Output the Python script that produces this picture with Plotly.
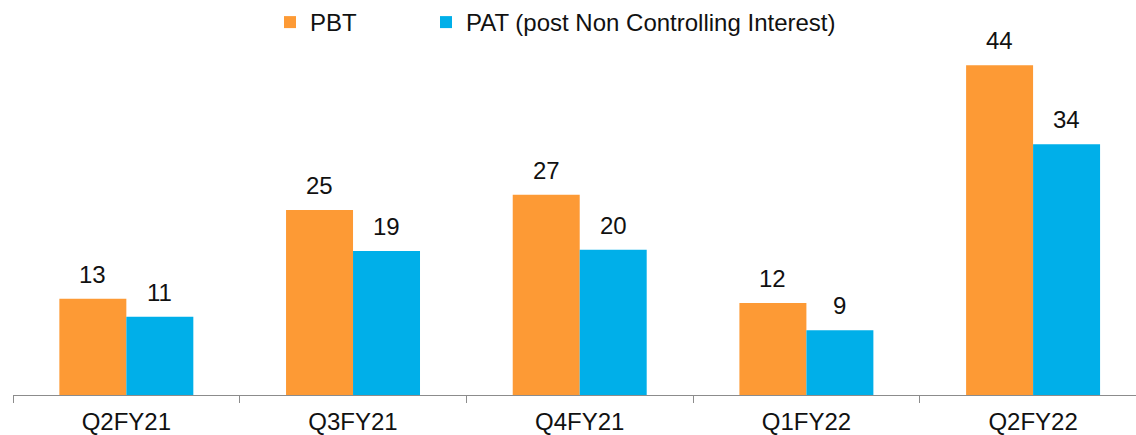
import plotly.graph_objects as go

categories = ["Q2FY21", "Q3FY21", "Q4FY21", "Q1FY22", "Q2FY22"]
pbt = [12.98, 24.93, 26.99, 12.40, 44.43]
pat = [10.55, 19.41, 19.58, 8.72, 33.79]
series_names = ["PBT", "PAT (post Non Controlling Interest)"]
colors = ["#FD9A35", "#00AFE9"]

FONT = "Liberation Sans, Arial, sans-serif"
FS = 24

fig = go.Figure()
for name, vals, col, lg in zip(series_names, [pbt, pat], colors, ["legend", "legend2"]):
    fig.add_trace(go.Bar(
        x=categories, y=vals, name=name, legend=lg,
        marker=dict(color=col, line=dict(width=0)),
        hoverinfo="skip",
    ))

# value labels above bars
bar_half_px = 33.5
for vals, shift in [(pbt, -bar_half_px), (pat, bar_half_px)]:
    for c, v in zip(categories, vals):
        fig.add_annotation(
            x=c, y=v, text=f"{round(v):d}", showarrow=False,
            xref="x", yref="y", yanchor="bottom", xanchor="center",
            xshift=shift, yshift=9,
            font=dict(family=FONT, size=FS, color="#111111"),
        )

legend_common = dict(
    orientation="h", xref="container", yref="container",
    xanchor="left", y=1.0, yanchor="top",
    font=dict(family=FONT, size=FS, color="#111111"),
    bgcolor="rgba(0,0,0,0)", borderwidth=0,
)

fig.update_layout(
    width=1136, height=435,
    margin=dict(l=13, r=0, t=40, b=40, autoexpand=False),
    paper_bgcolor="white", plot_bgcolor="white",
    barmode="group", bargap=0.409, bargroupgap=0,
    font=dict(family=FONT, size=FS, color="#111111"),
    showlegend=True,
    legend=dict(x=270 / 1136, **legend_common),
    legend2=dict(x=426 / 1136, **legend_common),
    xaxis=dict(
        range=[-0.5, 4.454], showgrid=False, zeroline=False,
        showline=True, linecolor="#8c8c8c", linewidth=1,
        ticks="outside", tickson="boundaries", ticklen=7, tickcolor="#8c8c8c",
        ticklabelstandoff=5, automargin=False,
        tickfont=dict(family=FONT, size=FS, color="#111111"),
        fixedrange=True,
    ),
    yaxis=dict(
        range=[0, 47.84], visible=False, showgrid=False, zeroline=False,
        fixedrange=True, automargin=False,
    ),
)

fig.write_html(
    "out.html",
    config={"displayModeBar": False},
    post_script="document.body.style.margin='0';",
)
